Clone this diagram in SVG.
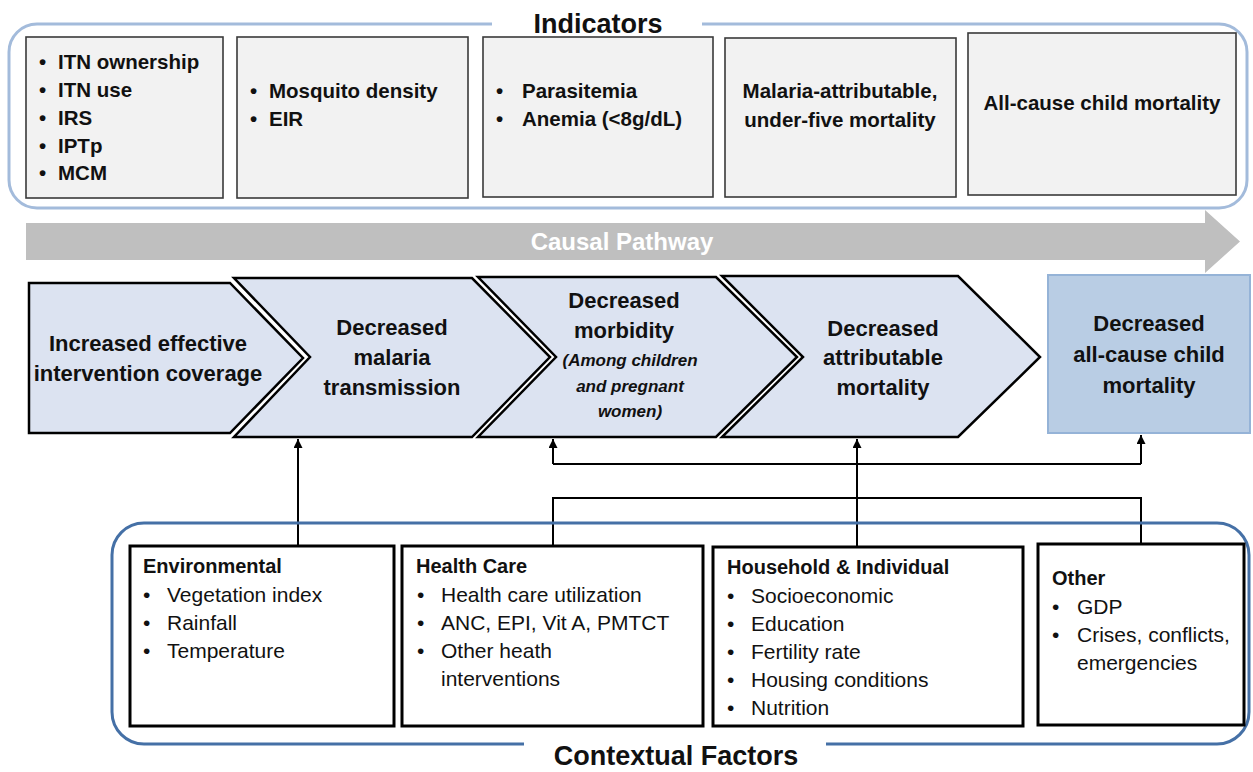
<svg xmlns="http://www.w3.org/2000/svg" width="1253" height="772" viewBox="0 0 1253 772">
<defs>
<style>
text{font-family:"Liberation Sans",Arial,sans-serif;fill:#111}
.ind{font-size:20.5px;font-weight:bold}
.chev{font-size:22px;font-weight:bold}
.it{font-size:17px;font-weight:bold;font-style:italic}
.ttl{font-size:20px;font-weight:bold}
.itm{font-size:21px}
.head{font-size:27px;font-weight:bold}
.ibox{fill:#f2f2f2;stroke:#3a3a3a;stroke-width:1.6}
.cbox{fill:#fff;stroke:#000;stroke-width:3}
.chv{fill:#dce3f1;stroke:#000;stroke-width:2.5;stroke-linejoin:miter}
.conn{fill:none;stroke:#000;stroke-width:2}
.mid{text-anchor:middle}
</style>
<marker id="ah" viewBox="0 0 10 10" refX="10" refY="5" markerWidth="9" markerHeight="9" markerUnits="userSpaceOnUse" orient="auto">
<path d="M0,0 L10,5 L0,10 z" fill="#000"/>
</marker>
</defs>
<rect width="1253" height="772" fill="#fff"/>

<g id="indicators">
<path d="M702,24 H1219 A28,28 0 0 1 1247,52 V180 A28,28 0 0 1 1219,208 H37 A28,28 0 0 1 9,180 V52 A28,28 0 0 1 37,24 H492" fill="none" stroke="#a3bbdb" stroke-width="3"/>
<text class="head mid" x="598" y="33">Indicators</text>
</g>

<g id="ind1">
<rect class="ibox" x="26" y="37" width="197" height="161"/>
<text class="ind"><tspan x="39" y="69">•</tspan><tspan x="58" y="69">ITN ownership</tspan>
<tspan x="39" y="97">•</tspan><tspan x="58" y="97">ITN use</tspan>
<tspan x="39" y="125">•</tspan><tspan x="58" y="125">IRS</tspan>
<tspan x="39" y="153">•</tspan><tspan x="58" y="153">IPTp</tspan>
<tspan x="39" y="180">•</tspan><tspan x="58" y="180">MCM</tspan></text>
</g>
<g id="ind2">
<rect class="ibox" x="237" y="37" width="231" height="161"/>
<text class="ind"><tspan x="250" y="98">•</tspan><tspan x="269" y="98">Mosquito density</tspan>
<tspan x="250" y="126">•</tspan><tspan x="269" y="126">EIR</tspan></text>
</g>
<g id="ind3">
<rect class="ibox" x="483" y="37" width="230" height="160"/>
<text class="ind"><tspan x="496" y="98">•</tspan><tspan x="522" y="98">Parasitemia</tspan>
<tspan x="496" y="126">•</tspan><tspan x="522" y="126">Anemia (&lt;8g/dL)</tspan></text>
</g>
<g id="ind4">
<rect class="ibox" x="725" y="38" width="231" height="159"/>
<text class="ind mid"><tspan x="840" y="98">Malaria-attributable,</tspan><tspan x="840" y="127">under-five mortality</tspan></text>
</g>
<g id="ind5">
<rect class="ibox" x="968" y="33" width="268" height="162"/>
<text class="ind mid" x="1102" y="110">All-cause child mortality</text>
</g>

<g id="causal-pathway">
<polygon points="26,223 1205,223 1205,210 1240,241.5 1205,273 1205,260 26,260" fill="#bfbfbf"/>
<text x="622" y="250" class="mid" style="font-size:24px;font-weight:bold;fill:#fff">Causal Pathway</text>
</g>

<g id="step1">
<polygon class="chv" points="29,283 230,283 303,358 230,433 29,433"/>
<text class="chev mid"><tspan x="148" y="351">Increased effective</tspan><tspan x="148" y="381">intervention coverage</tspan></text>
</g>
<g id="step2">
<polygon class="chv" points="234,278 472,278 550,357 472,437 234,437 310,357"/>
<text class="chev mid"><tspan x="392" y="335">Decreased</tspan><tspan x="392" y="365">malaria</tspan><tspan x="392" y="395">transmission</tspan></text>
</g>
<g id="step3">
<polygon class="chv" points="478,277 716,277 797,357 716,437 478,437 556,357"/>
<text class="chev mid"><tspan x="624" y="308">Decreased</tspan><tspan x="624" y="338">morbidity</tspan></text>
<text class="it mid"><tspan x="630" y="366">(Among children</tspan><tspan x="630" y="392">and pregnant</tspan><tspan x="630" y="417">women)</tspan></text>
</g>
<g id="step4">
<polygon class="chv" points="722,276 958,276 1040,357 958,437 722,437 803,357"/>
<text class="chev mid"><tspan x="883" y="336">Decreased</tspan><tspan x="883" y="365">attributable</tspan><tspan x="883" y="395">mortality</tspan></text>
</g>
<g id="step5">
<rect x="1048" y="275" width="202" height="158" fill="#b9cde4" stroke="#95b3d7" stroke-width="2"/>
<text class="chev mid"><tspan x="1149" y="331">Decreased</tspan><tspan x="1149" y="362">all-cause child</tspan><tspan x="1149" y="393">mortality</tspan></text>
</g>

<g id="connectors">
<path class="conn" d="M298,545 V439" marker-end="url(#ah)"/>
<path class="conn" d="M553,464 V439" marker-end="url(#ah)"/>
<path class="conn" d="M1141,464 V435" marker-end="url(#ah)"/>
<path class="conn" d="M553,464 H1141"/>
<path class="conn" d="M857,546 V439" marker-end="url(#ah)"/>
<path class="conn" d="M553,546 V498 H1141 V544"/>
</g>

<g id="contextual">
<path d="M826,744 H1217 A32,32 0 0 0 1249,712 V555 A32,32 0 0 0 1217,523 H144 A32,32 0 0 0 112,555 V712 A32,32 0 0 0 144,744 H524" fill="none" stroke="#4570a6" stroke-width="3"/>
<text class="head mid" x="676" y="765">Contextual Factors</text>
</g>

<g id="environmental">
<rect class="cbox" x="130" y="546" width="264" height="180"/>
<text class="ttl" x="143" y="573">Environmental</text>
<text class="itm"><tspan x="143" y="602">•</tspan><tspan x="167" y="602">Vegetation index</tspan>
<tspan x="143" y="630">•</tspan><tspan x="167" y="630">Rainfall</tspan>
<tspan x="143" y="658">•</tspan><tspan x="167" y="658">Temperature</tspan></text>
</g>
<g id="health-care">
<rect class="cbox" x="402" y="546" width="301" height="180"/>
<text class="ttl" x="416" y="573">Health Care</text>
<text class="itm"><tspan x="417" y="602">•</tspan><tspan x="441" y="602">Health care utilization</tspan>
<tspan x="417" y="630">•</tspan><tspan x="441" y="630">ANC, EPI, Vit A, PMTCT</tspan>
<tspan x="417" y="658">•</tspan><tspan x="441" y="658">Other heath</tspan>
<tspan x="441" y="686">interventions</tspan></text>
</g>
<g id="household">
<rect class="cbox" x="713" y="547" width="310" height="179"/>
<text class="ttl" x="727" y="574">Household &amp; Individual</text>
<text class="itm"><tspan x="727" y="603">•</tspan><tspan x="751" y="603">Socioeconomic</tspan>
<tspan x="727" y="631">•</tspan><tspan x="751" y="631">Education</tspan>
<tspan x="727" y="659">•</tspan><tspan x="751" y="659">Fertility rate</tspan>
<tspan x="727" y="687">•</tspan><tspan x="751" y="687">Housing conditions</tspan>
<tspan x="727" y="715">•</tspan><tspan x="751" y="715">Nutrition</tspan></text>
</g>
<g id="other">
<rect class="cbox" x="1038" y="544" width="206" height="181"/>
<text class="ttl" x="1052" y="585">Other</text>
<text class="itm"><tspan x="1052" y="614">•</tspan><tspan x="1077" y="614">GDP</tspan>
<tspan x="1052" y="642">•</tspan><tspan x="1077" y="642">Crises, conflicts,</tspan>
<tspan x="1077" y="670">emergencies</tspan></text>
</g>
</svg>
